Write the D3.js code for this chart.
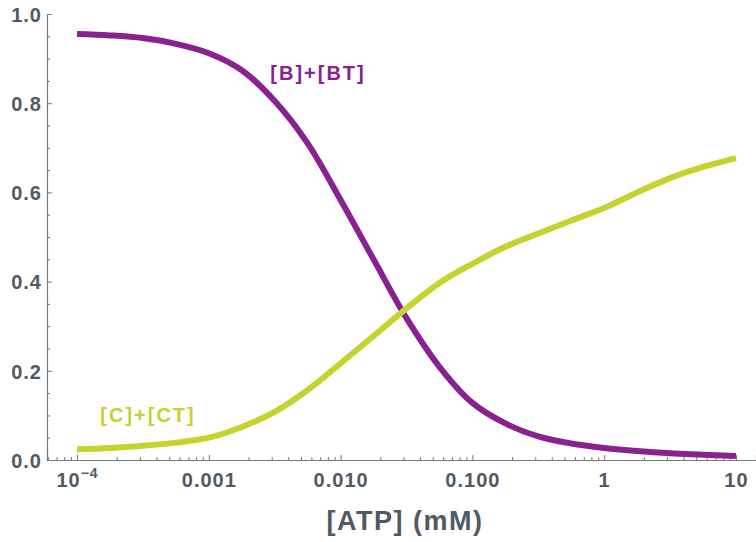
<!DOCTYPE html>
<html>
<head>
<meta charset="utf-8">
<script src="https://cdn.jsdelivr.net/npm/d3@7"></script>
<style>
  body { margin: 0; background: #fff; }
  svg { display: block; font-family: "Liberation Sans", Arial, sans-serif; }
  .tick text { font-weight: bold; fill: #515a62; letter-spacing: 1px; }
</style>
</head>
<body>
<div id="chart"></div>
<script>
var width = 756, height = 542;

// ATP concentration (mM), log-spaced
let atp = [1e-4, 1.778e-4, 3.162e-4, 5.623e-4, 1e-3, 1.778e-3, 3.162e-3, 5.623e-3, 0.01,
  0.01778, 0.03162, 0.05623, 0.1, 0.1778, 0.3162, 0.5623, 1, 1.778, 3.162, 5.623, 10];
let bSeries = [0.955, 0.952, 0.946, 0.933, 0.912, 0.874, 0.805, 0.71, 0.583,
  0.45, 0.318, 0.209, 0.128, 0.082, 0.053, 0.037, 0.027, 0.02, 0.015, 0.012, 0.009];
let cSeries = [0.024, 0.027, 0.032, 0.039, 0.05, 0.074, 0.108, 0.157, 0.217,
  0.278, 0.34, 0.397, 0.44, 0.478, 0.508, 0.537, 0.565, 0.6, 0.632, 0.657, 0.677];
let xTicks = [1e-4, 1e-3, 1e-2, 1e-1, 1, 10];
let xTickLabels = ['10', '0.001', '0.010', '0.100', '1', '10'];
let yTicks = [0, 0.2, 0.4, 0.6, 0.8, 1.0];
let seriesNames = ['[B]+[BT]', '[C]+[CT]'];
let colors = ['#8a2190', '#c6d22e'];

let svg = d3.select('#chart')
  .append('svg')
  .attr('width', width)
  .attr('height', height);

let x = d3.scaleLog()
  .domain([Math.pow(10, -4.228), Math.pow(10, 1.152)])
  .range([47, 756]);

let y = d3.scaleLinear()
  .domain([0, 1])
  .range([460, 14]);

// minor ticks
let xMinor = [];
for (let e = -5; e <= 1; e++) {
  for (let k = 2; k <= 9; k++) {
    let v = k * Math.pow(10, e);
    if (v > x.domain()[0] && v < x.domain()[1]) xMinor.push(v);
  }
}
let yMinor = d3.range(0.05, 1.0, 0.05).filter(v => Math.abs(v * 5 - Math.round(v * 5)) > 1e-6);

svg.append('g')
  .attr('transform', 'translate(0,460)')
  .call(d3.axisTop(x).tickValues(xMinor).tickSize(3).tickFormat(''))
  .call(g => g.select('.domain').remove())
  .selectAll('line').attr('stroke', '#777');

svg.append('g')
  .attr('transform', 'translate(47,0)')
  .call(d3.axisRight(y).tickValues(yMinor).tickSize(3).tickFormat(''))
  .call(g => g.select('.domain').remove())
  .selectAll('line').attr('stroke', '#777');

// x axis
let xAxis = svg.append('g')
  .attr('transform', 'translate(0,460)')
  .call(d3.axisTop(x).tickValues(xTicks).tickSize(5).tickFormat(''));
xAxis.select('.domain').attr('stroke', '#777').attr('stroke-width', 1.2);
xAxis.selectAll('.tick line').attr('stroke', '#777');
xAxis.selectAll('.tick').append('text')
  .attr('y', 27)
  .attr('text-anchor', 'middle')
  .attr('font-size', 20)
  .each(function (d, i) {
    let t = d3.select(this).text(xTickLabels[i]);
    if (i === 0) {
      t.append('tspan').attr('font-size', 14).attr('dy', -9).text('\u22124');
    }
  });

// y axis
let yAxis = svg.append('g')
  .attr('transform', 'translate(47,0)')
  .call(d3.axisRight(y).tickValues(yTicks).tickSize(5).tickFormat(''));
yAxis.select('.domain').attr('stroke', '#777').attr('stroke-width', 1.2);
yAxis.selectAll('.tick line').attr('stroke', '#777');
yAxis.selectAll('.tick').append('text')
  .attr('x', -5)
  .attr('dy', '0.36em')
  .attr('text-anchor', 'end')
  .attr('font-size', 20)
  .text(d => d3.format('.1f')(d));

// axis title
svg.append('text')
  .attr('x', 405)
  .attr('y', 530)
  .attr('text-anchor', 'middle')
  .attr('font-size', 27)
  .attr('font-weight', 'bold')
  .attr('letter-spacing', 1.5)
  .attr('fill', '#515a62')
  .text('[ATP] (mM)');

// curves
let line = d3.line()
  .x((d, i) => x(atp[i]))
  .y(d => y(d))
  .curve(d3.curveCatmullRom.alpha(0.5));

[bSeries, cSeries].forEach((s, k) => {
  svg.append('path')
    .datum(s)
    .attr('d', line)
    .attr('fill', 'none')
    .attr('stroke', colors[k])
    .attr('stroke-width', 6);
});

// labels
svg.append('text')
  .attr('x', 318).attr('y', 80)
  .attr('text-anchor', 'middle')
  .attr('font-size', 20).attr('font-weight', 'bold')
  .attr('letter-spacing', 2)
  .attr('fill', colors[0])
  .text(seriesNames[0]);

svg.append('text')
  .attr('x', 148).attr('y', 422)
  .attr('text-anchor', 'middle')
  .attr('font-size', 20).attr('font-weight', 'bold')
  .attr('letter-spacing', 2)
  .attr('fill', colors[1])
  .text(seriesNames[1]);
</script>
</body>
</html>
